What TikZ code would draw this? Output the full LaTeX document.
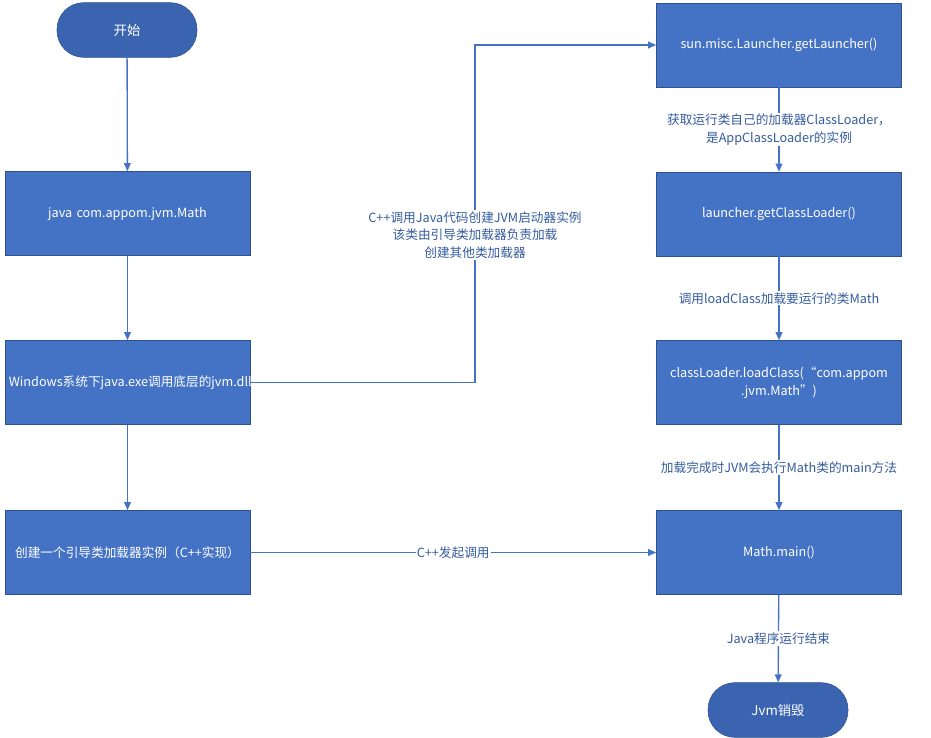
\documentclass[tikz,border=0pt]{standalone}
\usepackage{fontspec}
\setmainfont{Noto Sans CJK SC}
\usetikzlibrary{arrows.meta}
\definecolor{boxblue}{HTML}{4472C4}
\definecolor{edgeblue}{HTML}{2F528F}
\definecolor{capblue}{HTML}{3A63B0}
\tikzset{
  stagebox/.style={draw=edgeblue,fill=boxblue,text=white,minimum width=183.75pt,minimum height=63pt,align=center,font=\fontsize{9.5}{13}\selectfont,inner sep=2pt,text width=178pt},
  terminal/.style={draw=edgeblue,fill=capblue,text=white,rounded corners=20pt,minimum width=105pt,minimum height=41pt,font=\fontsize{10}{12}\selectfont},
  flow/.style={draw=boxblue,line width=1pt,-{Triangle[length=6pt,width=5pt]}},
  note/.style={fill=white,text=edgeblue!70!boxblue,align=center,font=\fontsize{9.5}{13}\selectfont,inner sep=1pt}
}
\begin{document}
\begin{tikzpicture}[x=0.75pt,y=-0.75pt]
  \useasboundingbox (0,0) rectangle (931,738);
  % left column
  \node[terminal] (start) at (127,30) {开始};
  \node[stagebox] (run) at (127.5,213.5) {java com.appom.jvm.Math};
  \node[stagebox] (jvm) at (127.5,382.5) {Windows系统下java.exe调用底层的jvm.dll文件创建Java虚拟机（C++实现）};
  \node[stagebox] (boot) at (127.5,552.5) {创建一个引导类加载器实例（C++实现）};
  % right column
  \node[stagebox] (launcher) at (779,45) {sun.misc.Launcher.getLauncher()};
  \node[stagebox] (getcl) at (779,214) {launcher.getClassLoader()};
  \node[stagebox] (load) at (779,382.5) {classLoader.loadClass(“com.appom\\.jvm.Math”)};
  \node[stagebox] (main) at (779,552.5) {Math.main()};
  \node[terminal] (stop) at (778,710) {Jvm销毁};
  \coordinate (bend1) at (475,382.5);
  \coordinate (bend2) at (475,45);

  \draw[flow] (start) -- (run);
  \draw[flow] (run) -- (jvm);
  \draw[flow] (jvm) -- (boot);
  \draw[flow] (jvm.east) -- (bend1) -- (bend2) -- (launcher.west);
  \node[note] at (475,235) {C++调用Java代码创建JVM启动器实例\\该类由引导类加载器负责加载\\创建其他类加载器};
  \draw[flow] (boot) -- node[note] {C++发起调用} (main);

  \draw[flow] (launcher) -- node[note] {获取运行类自己的加载器ClassLoader，\\是AppClassLoader的实例} (getcl);
  \draw[flow] (getcl) -- node[note] {调用loadClass加载要运行的类Math} (load);
  \draw[flow] (load) -- node[note] {加载完成时JVM会执行Math类的main方法} (main);
  \draw[flow] (main) -- node[note] {Java程序运行结束} (stop);
\end{tikzpicture}
\end{document}
